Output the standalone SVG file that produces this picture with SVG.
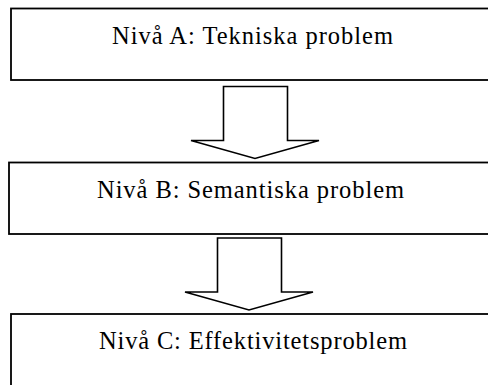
<svg xmlns="http://www.w3.org/2000/svg" width="488" height="385" viewBox="0 0 488 385">
<style>
.box{fill:#fff;stroke:#000;stroke-width:1.8}
.arr{fill:#fff;stroke:#000;stroke-width:1.6;stroke-linejoin:miter}
.lbl{font-family:"Liberation Serif","Times New Roman",serif;font-size:24.5px;fill:#000}
</style>
<rect width="488" height="385" fill="#fff"/>
<g id="nodeA"><rect class="box" x="11" y="8.5" width="490" height="71.5"/><text class="lbl" x="112" y="43.5" textLength="281" lengthAdjust="spacing">Nivå A: Tekniska problem</text></g>
<g id="nodeB"><rect class="box" x="9" y="162.5" width="490" height="71.5"/><text class="lbl" x="97" y="198" textLength="307" lengthAdjust="spacing">Nivå B: Semantiska problem</text></g>
<g id="nodeC"><rect class="box" x="11" y="314" width="490" height="90"/><text class="lbl" x="99" y="349" textLength="308" lengthAdjust="spacing">Nivå C: Effektivitetsproblem</text></g>
<g id="connectors">
<polygon class="arr" points="223.5,86.5 287.5,86.5 287.5,140.5 319,140.5 255,158.5 191,140.5 223.5,140.5"/>
<polygon class="arr" points="217.5,238 281.5,238 281.5,292 313,292 249,310 185,292 217.5,292"/>
</g>
</svg>
